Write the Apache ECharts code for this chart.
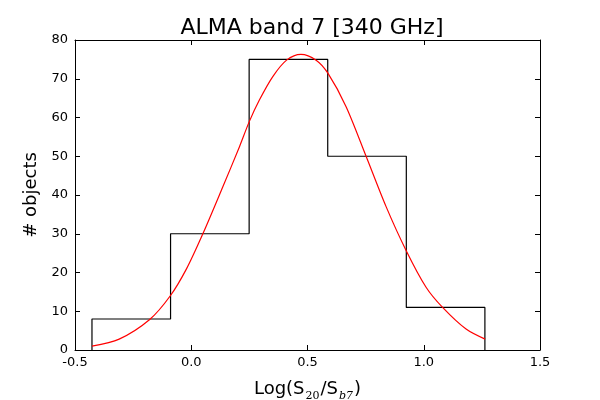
<!DOCTYPE html>
<html>
<head>
<meta charset="utf-8">
<script src="https://cdn.jsdelivr.net/npm/echarts@6/dist/echarts.min.js"></script>
<style>
  html, body { margin: 0; padding: 0; background: #fff; }
  #main { width: 600px; height: 400px; }
</style>
</head>
<body>
<div id="main"></div>
<script>
// histogram bins (edges + counts)
const binEdges = [-0.427, -0.089, 0.249, 0.587, 0.925, 1.263];
const binCounts = [8, 30, 75, 50, 11];

// red fit curve
const curveX = [-0.427, -0.31, -0.18, -0.09, -0.02, 0.05, 0.135, 0.207, 0.25, 0.293, 0.35, 0.41, 0.472, 0.537, 0.587, 0.666, 0.752, 0.838, 0.924, 1.01, 1.081, 1.182, 1.264];
const curveY = [1.0, 2.8, 7.8, 14, 21, 30, 42, 52.4, 59, 64.5, 70.5, 74.8, 76.3, 74.8, 71.5, 62.8, 50, 37, 25.7, 16.2, 11, 5.4, 2.8];

const xTicks = { min: -0.5, max: 1.5, interval: 0.5 };
const yTicks = { min: 0, max: 80, interval: 10 };

// outline of the step histogram
const histOutline = [[binEdges[0], 0]];
binCounts.forEach((c, i) => {
  histOutline.push([binEdges[i], c]);
  histOutline.push([binEdges[i + 1], c]);
});
histOutline.push([binEdges[binEdges.length - 1], 0]);

const curve = curveX.map((x, i) => [x, curveY[i]]);

const chart = echarts.init(document.getElementById('main'));

const font = 'DejaVu Sans';
const tick = { show: true, inside: true, length: 5, lineStyle: { color: '#000', width: 1 } };

chart.setOption({
  animation: false,
  backgroundColor: '#fff',
  title: {
    text: 'ALMA band 7 [340 GHz]',
    left: 307, top: 12, textAlign: 'center',
    textStyle: { fontFamily: font, fontSize: 22, fontWeight: 'normal', color: '#000' }
  },
  grid: { left: 75, right: 60, top: 40, bottom: 50, containLabel: false, outerBoundsMode: 'none' },
  xAxis: [
    {
      type: 'value', ...xTicks,
      axisLine: { show: true, onZero: false, lineStyle: { color: '#000', width: 1 } },
      axisTick: tick,
      splitLine: { show: false },
      axisLabel: {
        color: '#000', fontFamily: font, fontSize: 13, margin: 6,
        formatter: v => v.toFixed(1)
      },
      name: '{n|Log(S}{s|20}{n|/S}{i|b7}{n|)}',
      nameLocation: 'middle', nameGap: 26,
      nameTextStyle: {
        rich: {
          n: { fontFamily: font, fontSize: 18, color: '#000', lineHeight: 22, verticalAlign: 'bottom' },
          s: { fontFamily: 'DejaVu Serif', fontSize: 11, color: '#000', verticalAlign: 'bottom', lineHeight: 22, padding: [0, 1, -4, 1] },
          i: { fontFamily: 'DejaVu Serif', fontStyle: 'italic', fontSize: 11, color: '#000', verticalAlign: 'bottom', lineHeight: 22, padding: [0, 1, -4, 1] }
        }
      }
    },
    {
      type: 'value', position: 'top', ...xTicks,
      axisLine: { show: true, onZero: false, lineStyle: { color: '#000', width: 1 } },
      axisTick: tick,
      axisLabel: { show: false },
      splitLine: { show: false }
    }
  ],
  yAxis: [
    {
      type: 'value', ...yTicks,
      axisLine: { show: true, onZero: false, lineStyle: { color: '#000', width: 1 } },
      axisTick: tick,
      splitLine: { show: false },
      axisLabel: { color: '#000', fontFamily: font, fontSize: 13, margin: 7 },
      name: '# objects',
      nameLocation: 'middle', nameGap: 31, nameRotate: 90,
      nameTextStyle: { fontFamily: font, fontSize: 18, color: '#000' }
    },
    {
      type: 'value', position: 'right', ...yTicks,
      axisLine: { show: true, onZero: false, lineStyle: { color: '#000', width: 1 } },
      axisTick: tick,
      axisLabel: { show: false },
      splitLine: { show: false }
    }
  ],
  series: [
    {
      type: 'line',
      data: histOutline,
      showSymbol: false,
      lineStyle: { color: '#000', width: 1.2 },
      z: 2
    },
    {
      type: 'line',
      data: curve,
      smooth: 0.3,
      showSymbol: false,
      lineStyle: { color: '#ff0000', width: 1.2 },
      z: 3
    }
  ]
});
</script>
</body>
</html>
